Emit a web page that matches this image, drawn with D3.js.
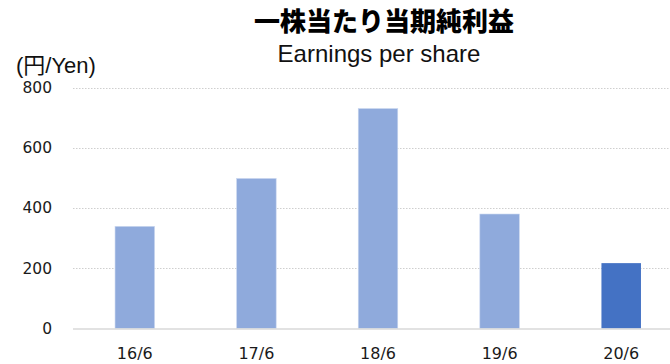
<!DOCTYPE html>
<html>
<head>
<meta charset="utf-8">
<script src="https://cdn.jsdelivr.net/npm/d3@7"></script>
<style>
  html, body { margin: 0; padding: 0; background: #ffffff; }
  svg { display: block; }
</style>
</head>
<body>
<svg id="chart" width="670" height="364"></svg>
<script>
// Fiscal periods (year/month of fiscal year end)
const categories = ["16/6", "17/6", "18/6", "19/6", "20/6"];
// Earnings per share, yen
const epsValues = [339, 498, 730, 380, 217];
// Latest period is highlighted
const highlight = [false, false, false, false, true];
const yTicks = [0, 200, 400, 600, 800];

const titleText = "一株当たり当期純利益";
const subtitleText = "Earnings per share";
const unitText = "(円/Yen)";

const W = 670, H = 364;
const plot = { left: 73, right: 682, top: 87.5, bottom: 328.5 };

const svg = d3.select("#chart");

const x = d3.scaleBand()
  .domain(categories)
  .range([plot.left + 1, plot.right])
  .paddingInner(0.675)
  .paddingOuter(0.3375);

const y = d3.scaleLinear()
  .domain([0, 800])
  .range([plot.bottom, plot.top]);

// Titles
svg.append("text")
  .attr("x", 384).attr("y", 31)
  .attr("text-anchor", "middle")
  .attr("font-family", "'Noto Sans CJK JP', sans-serif")
  .attr("font-weight", 900)
  .attr("font-size", 26)
  .attr("fill", "#000000")
  .text(titleText);

svg.append("text")
  .attr("x", 379).attr("y", 62)
  .attr("text-anchor", "middle")
  .attr("font-family", "'Liberation Sans', Arial, sans-serif")
  .attr("font-size", 24)
  .attr("fill", "#111111")
  .text(subtitleText);

// Unit label
svg.append("text")
  .attr("x", 16).attr("y", 73)
  .attr("font-family", "'Liberation Sans', 'Noto Sans CJK JP', sans-serif")
  .attr("font-size", 22)
  .attr("fill", "#111111")
  .text(unitText);

// Gridlines
svg.append("g")
  .selectAll("line")
  .data(yTicks.filter(d => d > 0))
  .join("line")
  .attr("x1", plot.left).attr("x2", W)
  .attr("y1", d => Math.round(y(d)) + 0.5)
  .attr("y2", d => Math.round(y(d)) + 0.5)
  .attr("stroke", "#cfcfcf")
  .attr("stroke-width", 1)
  .attr("stroke-dasharray", "1.5 1.5");

// Y axis labels
const yAxis = d3.axisLeft(y).tickValues(yTicks).tickSize(0).tickPadding(0);
const gy = svg.append("g")
  .attr("transform", `translate(52,0)`)
  .call(yAxis);
gy.select(".domain").remove();
gy.selectAll("text")
  .attr("font-family", "'DejaVu Sans', Verdana, sans-serif")
  .attr("font-size", 15.5)
  .attr("fill", "#1a1a1a");

// Bars
svg.append("g")
  .selectAll("rect")
  .data(categories.map((c, i) => ({ c, v: epsValues[i], hi: highlight[i] })))
  .join("rect")
  .attr("x", d => x(d.c))
  .attr("width", x.bandwidth())
  .attr("y", d => y(d.v))
  .attr("height", d => y(0) - y(d.v))
  .attr("fill", d => d.hi ? "#4472C4" : "#8FAADC")
  .attr("stroke", d => d.hi ? "none" : "#c9d6ef")
  .attr("stroke-width", 0.6);

// Baseline
svg.append("line")
  .attr("x1", plot.left).attr("x2", W)
  .attr("y1", y(0) + 0.5).attr("y2", y(0) + 0.5)
  .attr("stroke", "#d9d9d9")
  .attr("stroke-width", 1.5);

// X axis labels
const xAxis = d3.axisBottom(x).tickSize(0).tickPadding(0);
const gx = svg.append("g")
  .attr("transform", `translate(0,${y(0)})`)
  .call(xAxis);
gx.select(".domain").remove();
gx.selectAll("text")
  .attr("dy", null)
  .attr("y", 30.5)
  .attr("font-family", "'DejaVu Sans', Verdana, sans-serif")
  .attr("font-size", 16)
  .attr("fill", "#1a1a1a");
</script>
</body>
</html>
